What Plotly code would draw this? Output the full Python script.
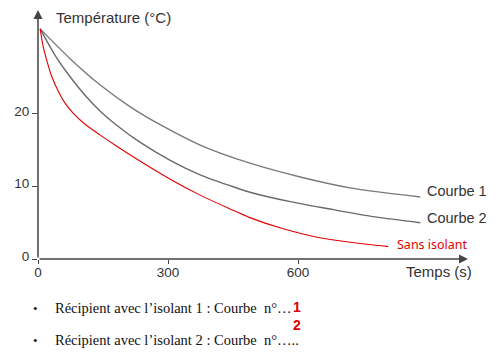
import plotly.graph_objects as go

# ---- data ----
t_courbe1 = [5, 74, 143, 212, 282, 374, 489, 605, 720, 882]
T_courbe1 = [31.7, 27.6, 24.0, 21.0, 18.5, 15.7, 13.2, 11.3, 9.8, 8.55]

t_courbe2 = [5, 39, 74, 108, 143, 180, 235, 305, 374, 443, 489, 582, 681, 778, 882]
T_courbe2 = [31.7, 28.1, 25.1, 22.6, 20.4, 18.5, 16.1, 13.6, 11.6, 10.1, 9.2, 7.9, 6.8, 5.8, 5.0]

t_sans = [5, 11.5, 21, 32, 46, 62, 81, 108, 143, 180, 235, 305, 374, 443, 489, 558, 644, 720, 808]
T_sans = [31.7, 29.4, 27.2, 25.1, 23.2, 21.5, 20.1, 18.6, 17.1, 15.6, 13.5, 11.0, 8.8, 6.9, 5.7, 4.3, 3.0, 2.3, 1.7]

x_ticks = [0, 300, 600]
y_ticks = [0, 10, 20]

# ---- layout geometry (pixels; page body adds an 8px offset) ----
OFF = 8
W, H = 499 - OFF, 360 - OFF
L, T = 38 - OFF, 10 - OFF
PW, PH = 430, 249
R, B = W - L - PW, H - T - PH
XMAX, YMAX = 992, 34.3


def px(x):
    return (x - OFF - L) / PW


def py(y):
    return (T + PH - (y - OFF)) / PH


AX = "#444444"
TXT = "#333333"

fig = go.Figure()
fig.add_trace(go.Scatter(x=t_courbe1, y=T_courbe1, mode="lines",
                         line=dict(color="#7a7a7a", width=1.4, shape="spline", smoothing=0.8),
                         hoverinfo="skip"))
fig.add_trace(go.Scatter(x=t_courbe2, y=T_courbe2, mode="lines",
                         line=dict(color="#6a6a6a", width=1.4, shape="spline", smoothing=0.8),
                         hoverinfo="skip"))
fig.add_trace(go.Scatter(x=t_sans, y=T_sans, mode="lines",
                         line=dict(color="#e00000", width=1.1, shape="spline", smoothing=0.8),
                         hoverinfo="skip"))

fig.update_layout(
    width=W, height=H,
    margin=dict(l=L, r=R, t=T, b=B, pad=0, autoexpand=False),
    paper_bgcolor="white", plot_bgcolor="white",
    showlegend=False,
    font=dict(family="Liberation Sans, Arial, sans-serif", size=12, color=TXT),
    xaxis=dict(range=[0, XMAX], showgrid=False, zeroline=False, showline=False,
               automargin=False,
               tickmode="array", tickvals=x_ticks, ticktext=[str(v) for v in x_ticks],
               ticks="outside", ticklen=4, tickcolor=AX, tickwidth=1.3,
               ticklabelstandoff=-3,
               tickfont=dict(size=13.5, color=TXT)),
    yaxis=dict(range=[0, YMAX], showgrid=False, zeroline=False, showline=False,
               automargin=False,
               tickmode="array", tickvals=y_ticks, ticktext=[str(v) for v in y_ticks],
               ticks="outside", ticklen=5, tickcolor=AX, tickwidth=1.3,
               ticklabelshift=-3,
               tickfont=dict(size=13.5, color=TXT)),
)

# axes with arrows
fig.add_annotation(x=XMAX, y=0, ax=0, ay=0, xref="x", yref="y", axref="x", ayref="y",
                   text="", showarrow=True, arrowhead=2, arrowsize=1.2, arrowwidth=1.5,
                   arrowcolor=AX)
fig.add_annotation(x=0, y=YMAX, ax=0, ay=0, xref="x", yref="y", axref="x", ayref="y",
                   text="", showarrow=True, arrowhead=2, arrowsize=1.2, arrowwidth=1.5,
                   arrowcolor=AX)


def label(x, y, text, xanchor="left", size=12, color=TXT, family=None):
    f = dict(size=size, color=color)
    if family:
        f["family"] = family
    fig.add_annotation(x=px(x), y=py(y), xref="paper", yref="paper", text=text,
                       showarrow=False, xanchor=xanchor, yanchor="middle", font=f)


label(54, 17, "Température (°C)", size=15)
label(404, 271, "Temps (s)", size=15)
label(425, 191, "Courbe 1", size=14.5)
label(425, 218, "Courbe 2", size=14.5)
label(395, 244, "Sans isolant", size=12.5, color="#e00000", family="Noto Sans, sans-serif")

serif = "Liberation Serif, Times New Roman, serif"
label(31, 308, "•", size=13, color="#111111", family=serif)
label(31, 340, "•", size=13, color="#111111", family=serif)
label(53, 308, "Récipient avec l’isolant 1 : Courbe  n°…", size=14.5, color="#111111", family=serif)
label(53, 340, "Récipient avec l’isolant 2 : Courbe  n°…..", size=14.5, color="#111111", family=serif)
label(291, 307, "<b>1</b>", size=14, color="#e00000", family="Liberation Sans, Arial, sans-serif")
label(291, 325, "<b>2</b>", size=14, color="#e00000", family="Liberation Sans, Arial, sans-serif")

fig.write_html("out.html")
